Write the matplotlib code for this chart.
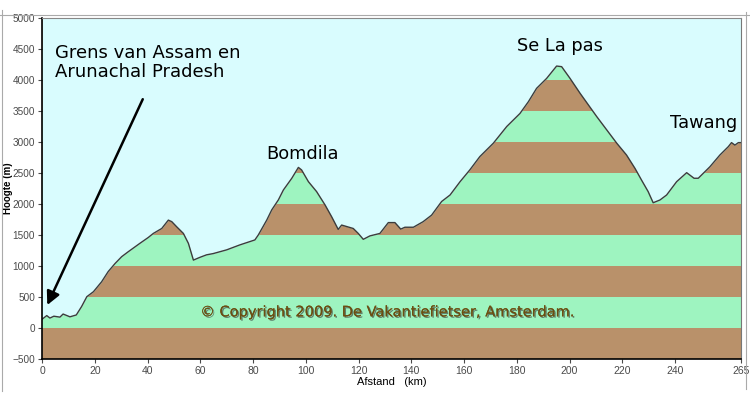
import matplotlib.pyplot as plt
import matplotlib.patheffects as pe
from matplotlib.lines import Line2D
import numpy as np

# route profile
afstand = [0, 1.8, 3, 4.5, 6.8, 8, 10.6, 13, 15, 17, 19.5, 22.6, 25.1, 27.7, 30.2, 32.7,
           37.1, 40.3, 42.2, 45.4, 47.9, 49.2, 51, 53.6, 55.5, 57.4, 59.9, 62.4, 64.9,
           70, 75, 80.7, 82, 85.2, 87.1, 89.6, 91.5, 94.7, 97.2, 98.4, 101, 104.1,
           107.3, 109.8, 112.3, 113.6, 118, 119.9, 121.8, 124.3, 128.1, 131.3, 133.8,
           136, 137.6, 140.8, 144.5, 147.7, 151.5, 154.7, 158.5, 162.2, 166, 171.1,
           176.2, 181.2, 184.4, 187.5, 191.3, 195.1, 197, 200.2, 204, 210.3, 214.1,
           217.9, 221.6, 224.8, 227.3, 229.8, 231.7, 234.3, 236.8, 240.6, 244.4,
           247.2, 248.8, 253.2, 257, 260.2, 261.4, 262.7, 264, 265]
hoogte = [140, 200, 160, 190, 175, 225, 180, 210, 345, 505, 585, 745, 910, 1040, 1150, 1230,
          1365, 1460, 1525, 1605, 1740, 1715, 1635, 1525, 1365, 1095, 1140, 1180, 1200,
          1260, 1340, 1420, 1500, 1740, 1905, 2065, 2225, 2415, 2590, 2550, 2360, 2200,
          1985, 1795, 1590, 1660, 1605, 1525, 1430, 1485, 1525, 1700, 1700,
          1595, 1625, 1625, 1715, 1820, 2040, 2145, 2360, 2550, 2765, 2980,
          3250, 3460, 3650, 3865, 4025, 4225, 4215, 4025, 3785, 3410, 3195,
          2980, 2790, 2575, 2385, 2200, 2020, 2065, 2145, 2360, 2505,
          2415, 2415, 2600, 2790, 2925, 2990, 2950, 2990, 2990]

plaatsen = ["Bomdila", "Se La pas", "Tawang"]
plaats_x = [85, 180, 238]
plaats_y = [2800, 4550, 3300]

x_ticks = list(range(0, 241, 20)) + [265]
y_ticks = list(range(-500, 5001, 500))

brown = '#b9916a'
green = '#9ef4c0'
sky = '#d9fcfe'

fig = plt.figure(figsize=(7.5, 3.99), dpi=100)
ax = fig.add_axes([0.056, 0.1003, 0.932, 0.8546])
ax.set_facecolor(sky)

x = np.array(afstand)
y = np.array(hoogte)

# stripes, then cover everything above the profile with sky
for i, lo in enumerate(range(-500, 5000, 500)):
    ax.axhspan(lo, lo + 500, facecolor=brown if i % 2 == 0 else green, lw=0, zorder=0)
ax.fill_between(x, y, 5000, color=sky, lw=0, zorder=1)
ax.plot(x, y, color='#3c3c3c', lw=1, zorder=2)

ax.set_xlim(0, 265)
ax.set_ylim(-500, 5000)
ax.set_xticks(x_ticks)
ax.set_yticks(y_ticks)
ax.tick_params(labelsize=7.5, colors='#4a4a4a', length=3, width=0.8, pad=2)
ax.tick_params(axis='y', labelsize=7.2)
for lbl in ax.get_xticklabels() + ax.get_yticklabels():
    lbl.set_family('Liberation Sans')
for s in ['left', 'bottom']:
    ax.spines[s].set_color('black')
    ax.spines[s].set_linewidth(1.2)
ax.spines['top'].set_color('#888888')
ax.spines['right'].set_color('#777777')

ax.set_xlabel('Afstand   (km)', fontsize=8, family='Liberation Sans', labelpad=1)
ax.set_ylabel('Hoogte (m)', fontsize=7, fontweight='bold', family='Liberation Sans')
ax.yaxis.set_label_coords(-0.042, 0.5)

ax.text(5, 4580, 'Grens van Assam en\nArunachal Pradesh', fontsize=13, va='top',
        linespacing=1.05, zorder=5)
ax.annotate('', xy=(2.0, 370), xytext=(38.2, 3690),
            arrowprops=dict(arrowstyle='-|>', color='black', lw=1.8, mutation_scale=20,
                            shrinkA=0, shrinkB=0),
            zorder=5)
for name, px, py in zip(plaatsen, plaats_x, plaats_y):
    ax.text(px, py, name, fontsize=12.8, va='center', zorder=5)

ax.text(60, 260, '\u00a9 Copyright 2009. De Vakantiefietser, Amsterdam.', fontsize=10.5,
        color='#6b4e12', va='center', zorder=5,
        path_effects=[pe.withSimplePatchShadow(offset=(1, -1), shadow_rgbFace='#333333', alpha=0.6),
                      pe.Normal()])

# thin frame of the original image
fig.add_artist(Line2D([0, 1], [0.962, 0.962], color='#aaaaaa', lw=0.8))
fig.add_artist(Line2D([0.003, 0.003], [0.02, 0.975], color='#aaaaaa', lw=0.8))
fig.add_artist(Line2D([0.994, 0.994], [0.025, 0.97], color='#aaaaaa', lw=0.8))

fig.savefig('out.png', dpi=100)
